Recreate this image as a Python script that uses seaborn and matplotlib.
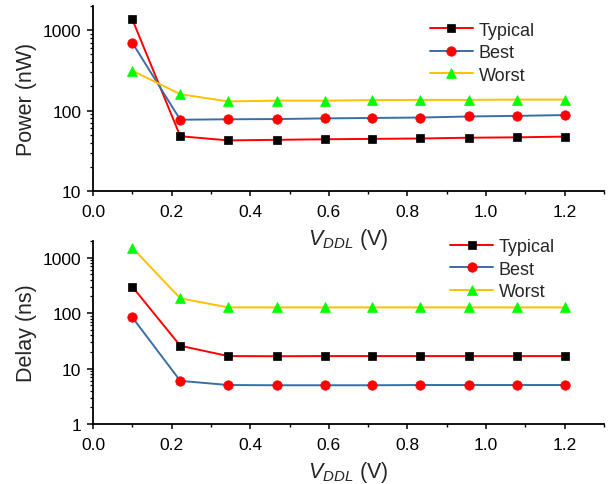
import numpy as np
import pandas as pd
import matplotlib
matplotlib.use('Agg')
import matplotlib.pyplot as plt
import seaborn as sns
from matplotlib.ticker import LogLocator, NullFormatter, MultipleLocator

# supply voltage sweep (V)
vddl = [0.1, 0.222, 0.344, 0.467, 0.589, 0.711, 0.833, 0.956, 1.078, 1.2]

# power in nW
power_typical = [1365, 48, 42.6, 43.3, 44, 44.5, 45, 46, 46.5, 47.5]
power_best = [698, 77, 78, 78.5, 80, 81, 82, 84.5, 86, 88]
power_worst = [314, 160, 130, 133, 133, 135, 136, 136, 137, 137]

# delay in ns
delay_typical = [300, 25.8, 16.8, 16.7, 16.8, 16.8, 16.8, 16.8, 16.8, 16.8]
delay_best = [84, 6.0, 5.05, 5.0, 5.0, 5.0, 5.05, 5.05, 5.05, 5.05]
delay_worst = [1515, 185, 127, 127, 127, 127, 127, 127, 127, 127]

corners = ['Typical', 'Best', 'Worst']

sns.set_theme(style='ticks')
plt.rcParams['font.family'] = ['Liberation Sans', 'DejaVu Sans']
plt.rcParams['mathtext.fontset'] = 'custom'
plt.rcParams['mathtext.rm'] = 'Liberation Sans'
plt.rcParams['mathtext.it'] = 'Liberation Sans:italic'

# line colour, marker, marker colour, marker size per corner
styles = {
    'Typical': ('#ff0000', 's', '#000000', 6.0),
    'Best': ('#3a6ea5', 'o', '#ff0000', 6.8),
    'Worst': ('#ffc000', '^', '#00ff00', 7.5),
}

fig = plt.figure(figsize=(6.13, 4.85), dpi=100)
ax1 = fig.add_axes([0.1517, 0.6041, 0.8336, 0.3815])
ax2 = fig.add_axes([0.1517, 0.1237, 0.8336, 0.3773])
# transparent axes so the upper x label is not hidden by the lower panel
for a in (ax1, ax2):
    a.set_facecolor('none')
ax1.set_zorder(2)


def draw(ax, data, ylabel, ylim, legend_pos):
    df = pd.DataFrame({'x': np.tile(vddl, 3),
                       'y': np.concatenate(data),
                       'corner': np.repeat(corners, len(vddl))})
    for c in corners:
        lc, mk, mc, ms = styles[c]
        sub = df[df['corner'] == c]
        sns.lineplot(data=sub, x='x', y='y', ax=ax, color=lc, marker=mk,
                     markersize=ms, markerfacecolor=mc, markeredgecolor=mc,
                     markeredgewidth=0.5, linewidth=1.4, label=c)
    ax.set_yscale('log')
    ax.set_ylim(*ylim)
    ax.set_xlim(0, 1.3)
    ax.xaxis.set_major_locator(MultipleLocator(0.2))
    ax.xaxis.set_minor_locator(MultipleLocator(0.1))
    ax.yaxis.set_major_locator(LogLocator(base=10))
    ax.yaxis.set_minor_locator(LogLocator(base=10, subs=np.arange(2, 10)))
    ax.yaxis.set_minor_formatter(NullFormatter())
    ax.yaxis.set_major_formatter(plt.FuncFormatter(lambda v, p: '%d' % v))
    ax.set_xticks([0.0, 0.2, 0.4, 0.6, 0.8, 1.0, 1.2])
    ax.set_xticklabels(['0.0', '0.2', '0.4', '0.6', '0.8', '1.0', '1.2'])
    for s in ['top', 'right']:
        ax.spines[s].set_visible(False)
    for s in ['left', 'bottom']:
        ax.spines[s].set_linewidth(1.3)
        ax.spines[s].set_color('black')
    ax.tick_params(which='both', colors='black', labelsize=12.5)
    ax.tick_params(axis='x', which='major', direction='out', length=3.5,
                   width=1.1, pad=6)
    ax.tick_params(axis='x', which='minor', direction='out', length=2.5,
                   width=1.0)
    ax.tick_params(axis='y', which='major', direction='out', length=4.5,
                   width=1.1, pad=4)
    ax.tick_params(axis='y', which='minor', direction='out', length=2.5,
                   width=0.9)
    ax.set_xlabel(r'$V_{DDL}$ (V)', fontsize=15.5, labelpad=5)
    ax.set_ylabel(ylabel, fontsize=15.5, labelpad=4)
    ax.legend(loc='upper left', bbox_to_anchor=legend_pos,
              bbox_transform=fig.transFigure, frameon=False, fontsize=13,
              handlelength=2.4, handletextpad=0.3, labelspacing=0.3,
              borderpad=0, borderaxespad=0)


draw(ax1, [power_typical, power_best, power_worst], 'Power (nW)',
     (10, 2000), (0.701, 0.953))
draw(ax2, [delay_typical, delay_best, delay_worst], 'Delay (ns)',
     (1, 2000), (0.734, 0.507))

fig.savefig('out.png', dpi=100)
